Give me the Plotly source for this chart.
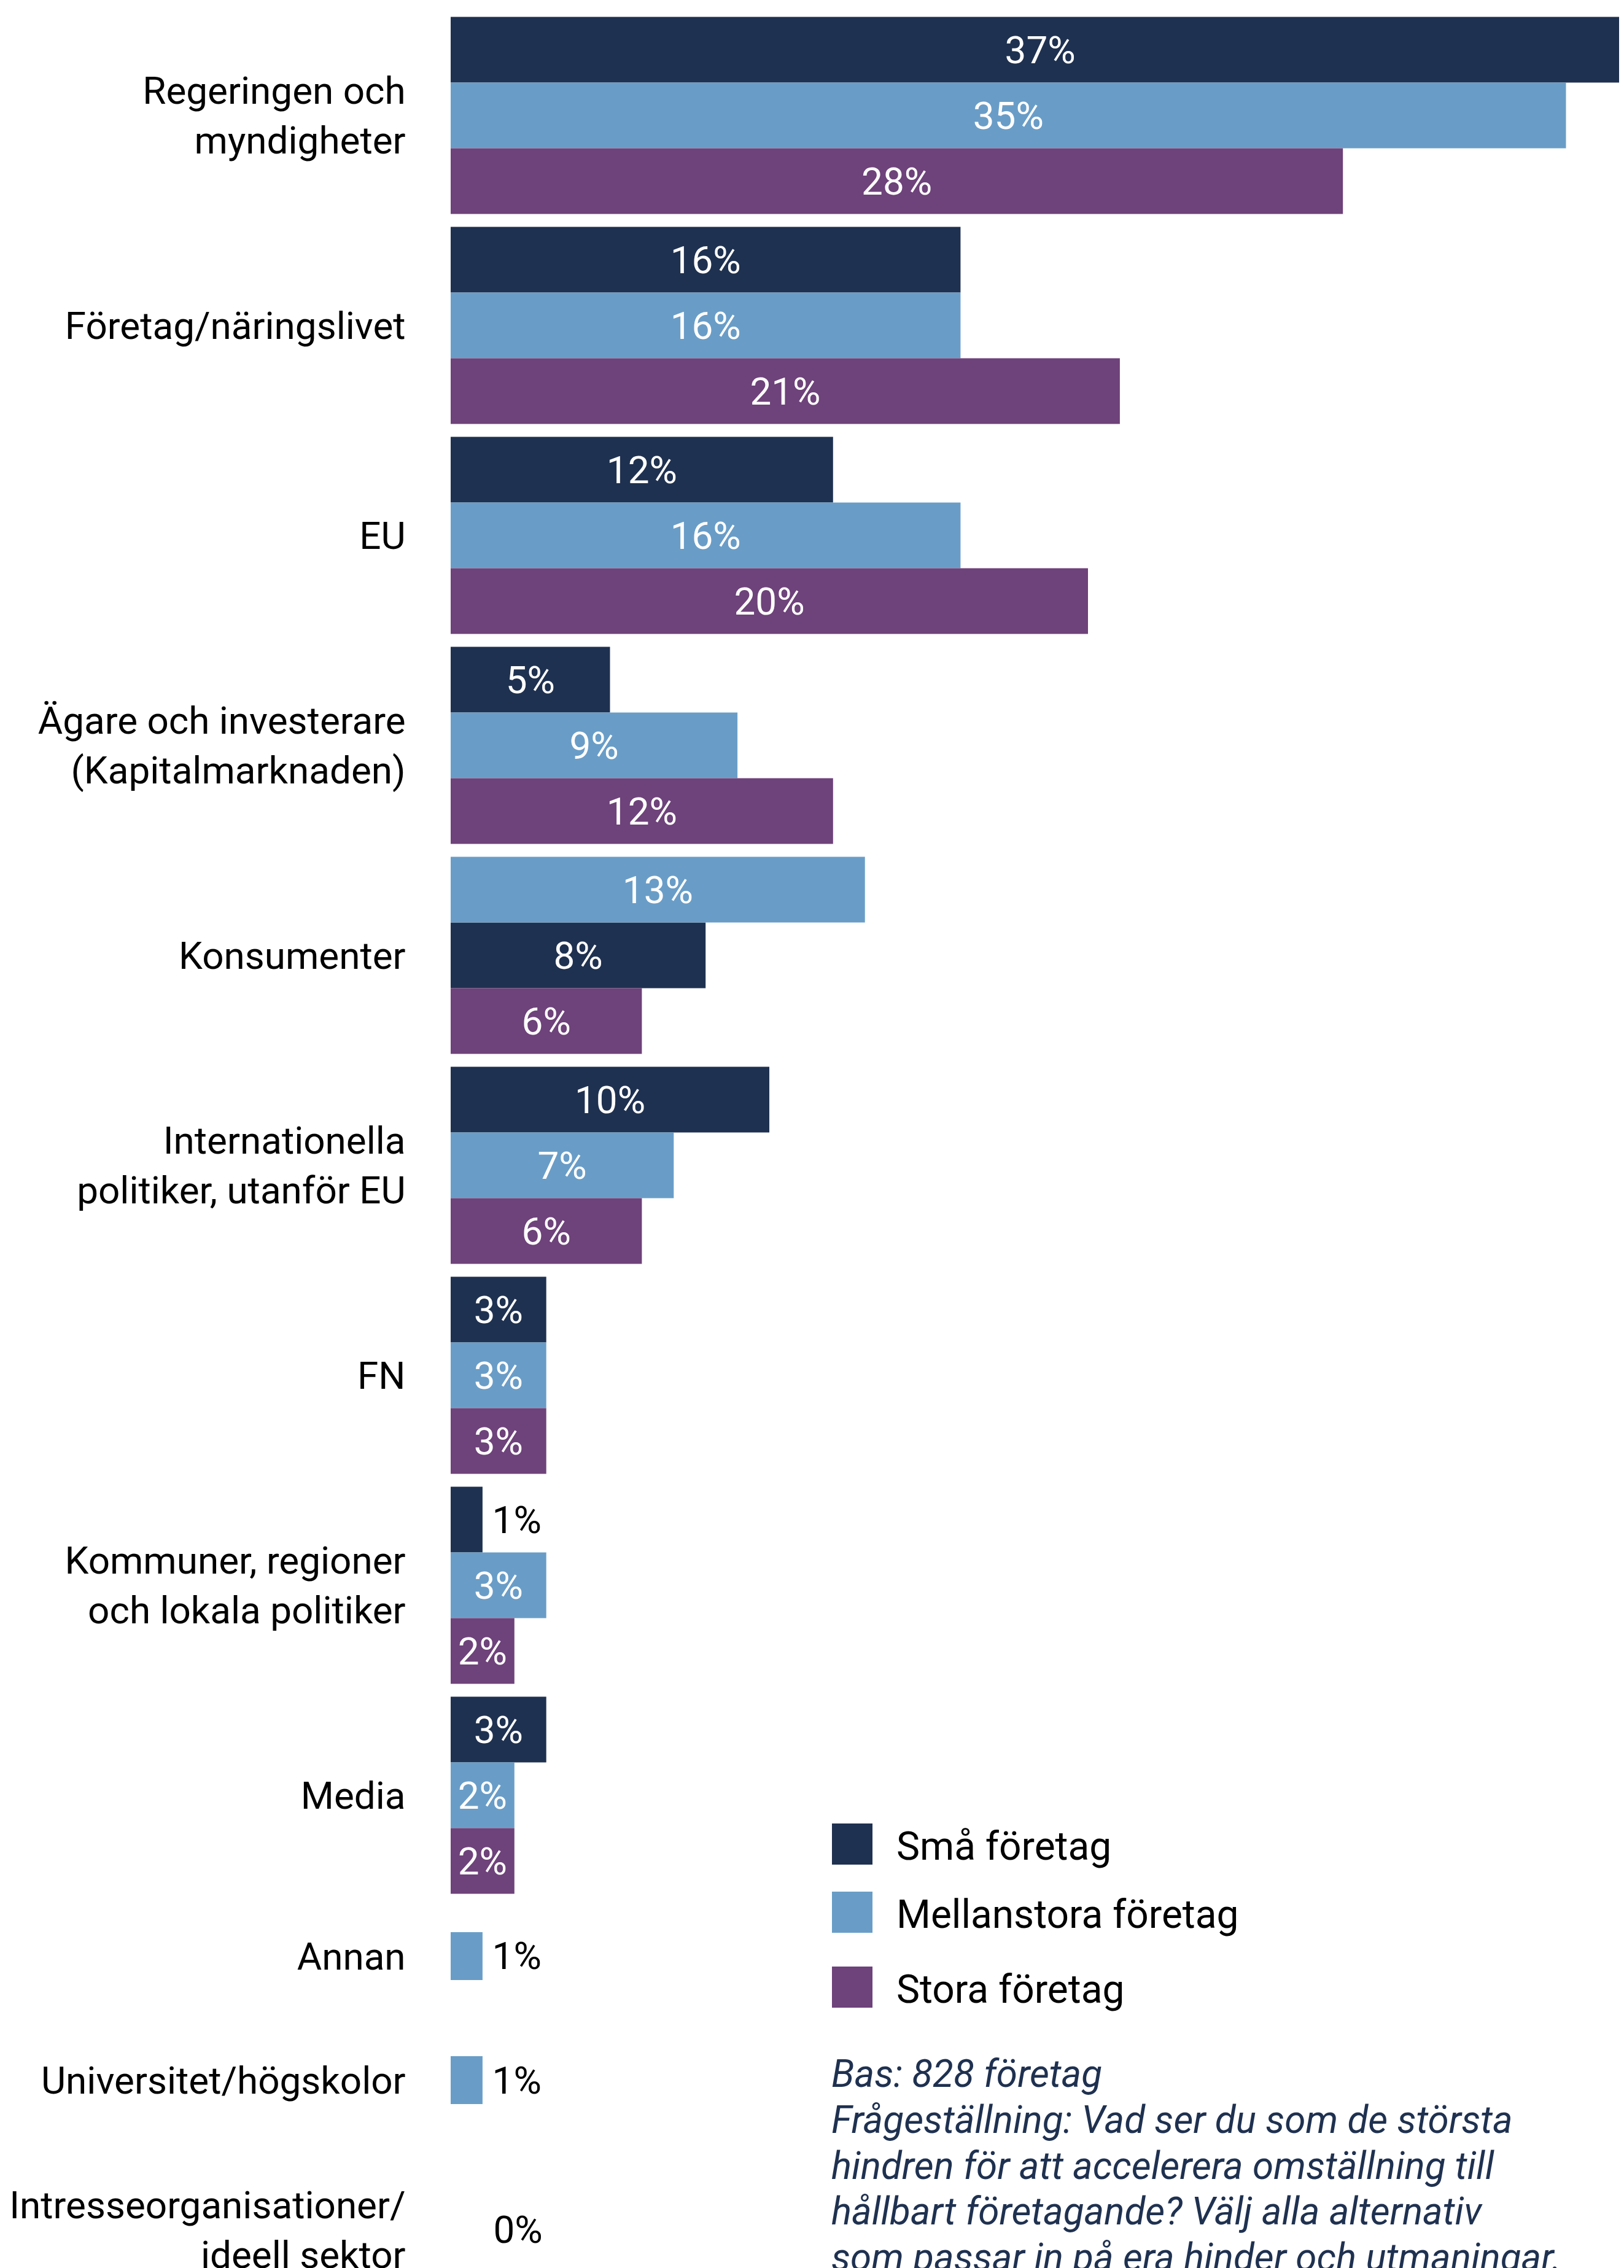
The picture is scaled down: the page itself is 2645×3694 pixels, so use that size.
import plotly.graph_objects as go

# --- data -------------------------------------------------------------
categories = [
    "Regeringen och<br>myndigheter",
    "Företag/näringslivet",
    "EU",
    "Ägare och investerare<br>(Kapitalmarknaden)",
    "Konsumenter",
    "Internationella<br>politiker, utanför EU",
    "FN",
    "Kommuner, regioner<br>och lokala politiker",
    "Media",
    "Annan",
    "Universitet/högskolor",
    "Intresseorganisationer/<br>ideell sektor",
]
sma = [37, 16, 12, 5, 8, 10, 3, 1, 3, None, None, None]
mellan = [35, 16, 16, 9, 13, 7, 3, 3, 2, 1, 1, 0]
stora = [28, 21, 20, 12, 6, 6, 3, 2, 2, None, None, None]

series_names = ["Små företag", "Mellanstora företag", "Stora företag"]
series_values = [sma, mellan, stora]
# bar order inside a group (top to bottom), exceptions only
order_override = {"Konsumenter": ["Mellanstora företag", "Små företag", "Stora företag"]}

footnote_lines = [
    "Bas: 828 företag",
    "Frågeställning: Vad ser du som de största",
    "hindren för att accelerera omställning till",
    "hållbart företagande? Välj alla alternativ",
    "som passar in på era hinder och utmaningar.",
]

# --- layout / style ---------------------------------------------------
colors = {"Små företag": "#1F3150", "Mellanstora företag": "#699DC7", "Stora företag": "#6E427A"}
W, H = 2645, 3694
ORIGIN = 8          # the page body margin shifts the figure by this much
LEFT = 734
PX_PER_PCT = 51.9
SLOT_PX = 342
FIRST_CENTER_PX = 188
# vertical centre of each row, in slot units
row_pos = [0, 1, 2, 3, 4, 5, 6, 7, 8, 8.766, 9.357, 10.07]
bar_h = 107 / SLOT_PX
single_h = 78 / SLOT_PX
FONT = "Roboto"

fig_w, fig_h = W - ORIGIN, H - ORIGIN
plot_l = LEFT - ORIGIN


def px_x(px):
    return (px - LEFT) / (W - LEFT)


def px_y(py):
    return 1 - (py - ORIGIN) / fig_h


fig = go.Figure()

for name, vals in zip(series_names, series_values):
    ys, xs, offs, widths, texts, tpos = [], [], [], [], [], []
    for i, (cat, v) in enumerate(zip(categories, vals)):
        if v is None:
            continue
        n_bars = sum(1 for s in series_values if s[i] is not None)
        if n_bars == 1:
            off, w = -single_h / 2, single_h
        else:
            order = order_override.get(cat, series_names)
            k = order.index(name)
            off, w = -1.5 * bar_h + k * bar_h, bar_h
        ys.append(row_pos[i])
        xs.append(v)
        offs.append(off)
        widths.append(w)
        if v >= 2:
            texts.append(f"{v}%")
            tpos.append("inside")
        else:
            pad = "\u2009" if v > 0 else "\u2007\u2002"
            texts.append(f"{pad}{v}%")
            tpos.append("outside")
    fig.add_trace(
        go.Bar(
            name=name,
            orientation="h",
            y=ys,
            x=xs,
            offset=offs,
            width=widths,
            text=texts,
            textposition=tpos,
            insidetextanchor="middle",
            textangle=0,
            insidetextfont=dict(family=FONT, size=62, color="white"),
            outsidetextfont=dict(family=FONT, size=62, color="black"),
            marker=dict(color=colors[name], line=dict(width=0)),
            showlegend=False,
            cliponaxis=True,
        )
    )

# manual legend (large square swatches)
legend_rows = [(2970, 3037), (3081, 3148), (3203, 3270)]
for name, (top, bot) in zip(series_names, legend_rows):
    fig.add_shape(
        type="rect", xref="paper", yref="paper",
        x0=px_x(1355), x1=px_x(1421), y0=px_y(bot), y1=px_y(top),
        fillcolor=colors[name], line=dict(width=0),
    )
    fig.add_annotation(
        xref="paper", yref="paper", x=px_x(1458), y=px_y((top + bot) / 2 + 4),
        text=name, showarrow=False, xanchor="left", yanchor="middle",
        font=dict(family=FONT, size=64, color="black"),
    )

# footnote, one annotation per line for tighter line spacing
for j, line in enumerate(footnote_lines):
    fig.add_annotation(
        xref="paper", yref="paper", x=px_x(1352), y=px_y(3339 + 74.75 * j),
        text=line, showarrow=False, xanchor="left", yanchor="top", align="left",
        font=dict(family=FONT, size=62, color="#1F3150", style="italic"),
    )

y_top = -(FIRST_CENTER_PX - ORIGIN) / SLOT_PX
y_bot = (H - FIRST_CENTER_PX) / SLOT_PX

fig.update_layout(
    width=fig_w,
    height=fig_h,
    margin=dict(l=plot_l, r=0, t=0, b=0, autoexpand=False),
    paper_bgcolor="white",
    plot_bgcolor="white",
    barmode="overlay",
    font=dict(family=FONT, size=62, color="black"),
    xaxis=dict(
        range=[0, (W - LEFT) / PX_PER_PCT],
        automargin=False,
        showgrid=False, zeroline=False, showticklabels=False, showline=False,
    ),
    yaxis=dict(
        range=[y_bot, y_top],
        automargin=False,
        tickmode="array",
        tickvals=row_pos,
        ticktext=categories,
        ticks="outside",
        ticklen=60,
        tickcolor="rgba(0,0,0,0)",
        ticklabeloverflow="allow",
        showgrid=False, zeroline=False, showline=False,
        tickfont=dict(family=FONT, size=62, color="black"),
    ),
)

fig.write_html("out.html")
